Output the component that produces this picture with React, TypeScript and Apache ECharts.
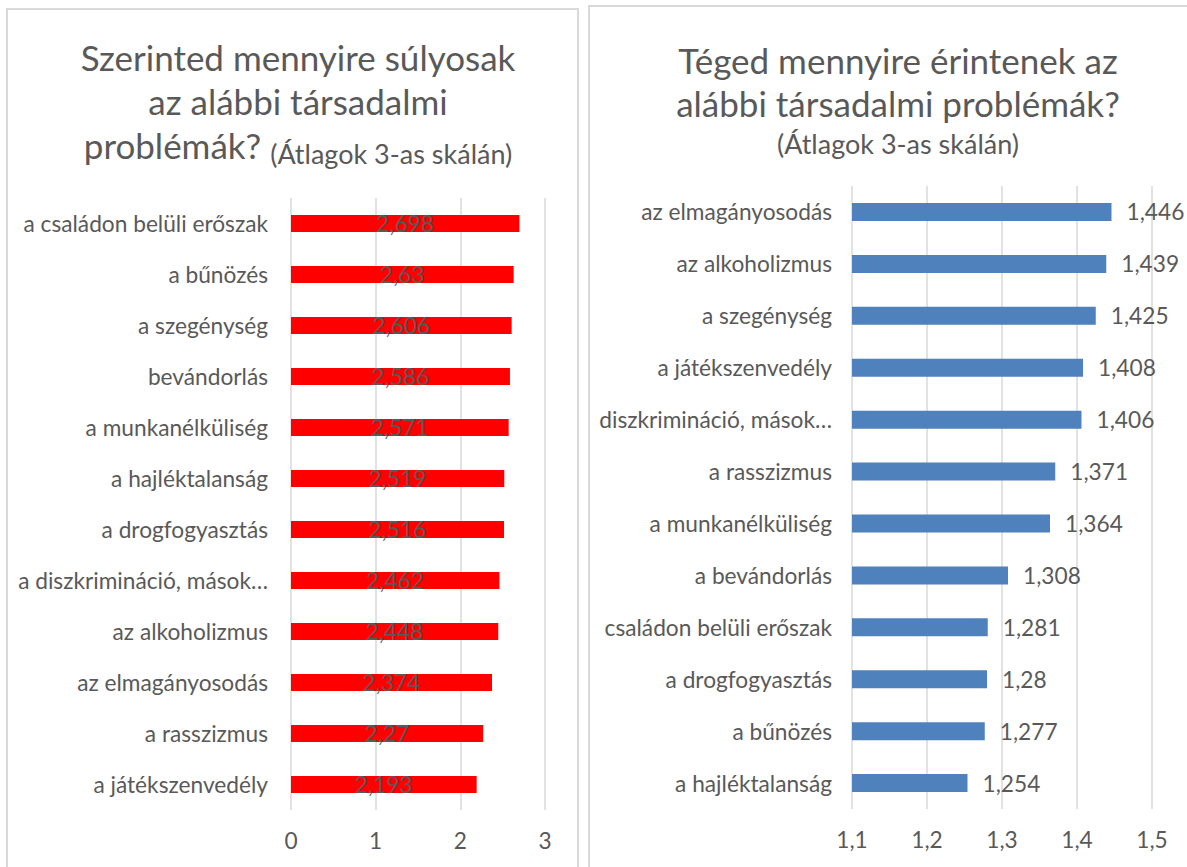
import React, { useEffect, useRef } from "react";
import * as echarts from "echarts";

const leftCategories = [
  "a családon belüli erőszak",
  "a bűnözés",
  "a szegénység",
  "bevándorlás",
  "a munkanélküliség",
  "a hajléktalanság",
  "a drogfogyasztás",
  "a diszkrimináció, mások…",
  "az alkoholizmus",
  "az elmagányosodás",
  "a rasszizmus",
  "a játékszenvedély",
];
const leftValues = [2.698, 2.63, 2.606, 2.586, 2.571, 2.519, 2.516, 2.462, 2.448, 2.374, 2.27, 2.193];

const rightCategories = [
  "az elmagányosodás",
  "az alkoholizmus",
  "a szegénység",
  "a játékszenvedély",
  "diszkrimináció, mások…",
  "a rasszizmus",
  "a munkanélküliség",
  "a bevándorlás",
  "családon belüli erőszak",
  "a drogfogyasztás",
  "a bűnözés",
  "a hajléktalanság",
];
const rightValues = [1.446, 1.439, 1.425, 1.408, 1.406, 1.371, 1.364, 1.308, 1.281, 1.28, 1.277, 1.254];

const leftTicks = { min: 0, max: 3, interval: 1 };
const rightTicks = { min: 1.1, max: 1.5, interval: 0.1 };

const FONT = "Lato";
const GREY = "#595959";
const LINE = "#d9d9d9";
const FS = 22.7;

const comma = (v: number) => String(v).replace(".", ",");

export default function App() {
  const ref = useRef<HTMLDivElement>(null);
  useEffect(() => {
    if (!ref.current) return;
    const chart = echarts.init(ref.current, undefined, { renderer: "svg" });
    const catAxis = (data: string[], gridIndex: number, margin: number) => ({
      type: "category" as const,
      gridIndex,
      data,
      inverse: true,
      axisLine: { show: false },
      axisTick: { show: false },
      axisLabel: { color: GREY, fontSize: FS, fontFamily: FONT, margin },
    });
    const valAxis = (t: { min: number; max: number; interval: number }, gridIndex: number, dec: number) => ({
      type: "value" as const,
      gridIndex,
      min: t.min,
      max: t.max,
      interval: t.interval,
      axisLine: { show: false },
      axisTick: { show: false },
      splitLine: { show: true, lineStyle: { color: LINE, width: 1.5 } },
      axisLabel: {
        color: GREY,
        fontSize: FS,
        fontFamily: FONT,
        margin: 19,
        formatter: (v: number) => v.toFixed(dec).replace(".", ","),
      },
    });
    chart.setOption({
      animation: false,
      backgroundColor: "#ffffff",
      title: [
        {
          text: "{a|Szerinted mennyire súlyosak}\n{a|az alábbi társadalmi}\n{a|problémák?}{s| }{b|(Átlagok 3-as skálán)}",
          left: 293,
          top: 30,
          textAlign: "center",
          textStyle: {
            fontWeight: "normal",
            rich: {
              a: { fontSize: 35, lineHeight: 44, color: GREY, fontFamily: FONT, fontWeight: "normal" },
              s: { fontSize: 35, lineHeight: 44, color: GREY, fontFamily: FONT, fontWeight: "normal" },
              b: { fontSize: 27, lineHeight: 40, color: GREY, fontFamily: FONT, fontWeight: "normal", verticalAlign: "bottom" },
            },
          },
        },
        {
          text: "{a|Téged mennyire érintenek az}\n{a|alábbi társadalmi problémák?}\n{b|(Átlagok 3-as skálán)}",
          left: 893,
          top: 33,
          textAlign: "center",
          textStyle: {
            fontWeight: "normal",
            rich: {
              a: { fontSize: 35, lineHeight: 43, color: GREY, fontFamily: FONT, fontWeight: "normal" },
              b: { fontSize: 27, lineHeight: 38, color: GREY, fontFamily: FONT, fontWeight: "normal" },
            },
          },
        },
      ],
      graphic: [
        {
          type: "rect",
          shape: { x: 7, y: 9, width: 571, height: 900 },
          style: { fill: "none", stroke: LINE, lineWidth: 2 },
          silent: true,
        },
        {
          type: "rect",
          shape: { x: 589, y: 6, width: 640, height: 900 },
          style: { fill: "none", stroke: LINE, lineWidth: 2 },
          silent: true,
        },
      ],
      grid: [
        { left: 291, width: 254, top: 198, height: 612 },
        { left: 852, width: 300, top: 186, height: 623 },
      ],
      yAxis: [catAxis(leftCategories, 0, 23), catAxis(rightCategories, 1, 20)],
      xAxis: [valAxis(leftTicks, 0, 0), valAxis(rightTicks, 1, 1)],
      series: [
        {
          type: "bar",
          xAxisIndex: 0,
          yAxisIndex: 0,
          data: leftValues,
          barWidth: 17,
          itemStyle: { color: "#ff0000" },
          label: {
            show: true,
            position: "inside",
            color: GREY,
            fontSize: FS,
            fontFamily: FONT,
            formatter: (p: any) => comma(p.value),
          },
        },
        {
          type: "bar",
          xAxisIndex: 1,
          yAxisIndex: 1,
          data: rightValues,
          barWidth: 18,
          itemStyle: { color: "#4f81bd" },
          label: {
            show: true,
            position: "right",
            distance: 15,
            color: GREY,
            fontSize: FS,
            fontFamily: FONT,
            formatter: (p: any) => comma(p.value),
          },
        },
      ],
    });
    return () => chart.dispose();
  }, []);
  return (
    <div
      ref={ref}
      style={{ position: "absolute", left: 0, top: 0, width: 1187, height: 867 }}
    />
  );
}
